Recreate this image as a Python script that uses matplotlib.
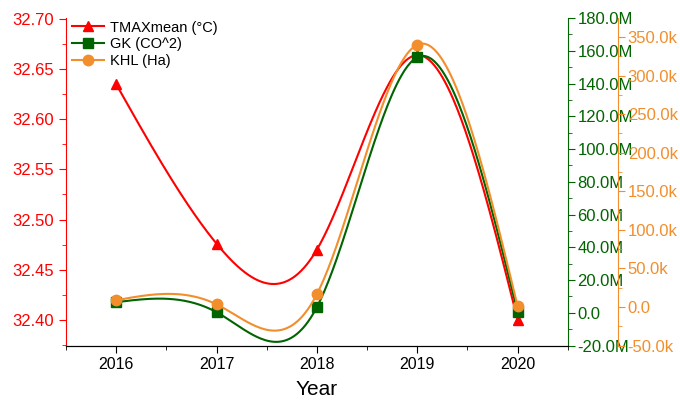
import numpy as np
import matplotlib
matplotlib.use("Agg")
import matplotlib.pyplot as plt
from matplotlib.ticker import MultipleLocator, FuncFormatter

years = [2016, 2017, 2018, 2019, 2020]
tmax_mean = [32.635, 32.476, 32.470, 32.664, 32.400]
gk_co2 = [6.5e6, 0.4e6, 3.5e6, 156e6, 0.4e6]
khl_ha = [8.8e3, 3.5e3, 16.7e3, 340e3, 1.0e3]

RED = "#ff0000"
GREEN = "#006400"
ORANGE = "#f28e2b"


def natural_spline(x, y, n=300):
    x = np.asarray(x, float)
    y = np.asarray(y, float)
    m = len(x)
    h = np.diff(x)
    A = np.zeros((m, m))
    b = np.zeros(m)
    A[0, 0] = A[-1, -1] = 1.0
    for i in range(1, m - 1):
        A[i, i - 1] = h[i - 1]
        A[i, i] = 2 * (h[i - 1] + h[i])
        A[i, i + 1] = h[i]
        b[i] = 3 * ((y[i + 1] - y[i]) / h[i] - (y[i] - y[i - 1]) / h[i - 1])
    c = np.linalg.solve(A, b)
    xs = np.linspace(x[0], x[-1], n)
    idx = np.clip(np.searchsorted(x, xs) - 1, 0, m - 2)
    dx = xs - x[idx]
    bb = (y[idx + 1] - y[idx]) / h[idx] - h[idx] * (2 * c[idx] + c[idx + 1]) / 3
    dd = (c[idx + 1] - c[idx]) / (3 * h[idx])
    ys = y[idx] + bb * dx + c[idx] * dx ** 2 + dd * dx ** 3
    return xs, ys


plt.rcParams["font.family"] = ["Liberation Sans", "DejaVu Sans"]

fig = plt.figure(figsize=(6.8, 4.0), dpi=100)
ax = fig.add_axes([0.097, 0.136, 0.738, 0.819])
ax2 = ax.twinx()
ax3 = ax.twinx()
ax3.spines["right"].set_position(("axes", 1.1))

# Temperature axis
xs, ys = natural_spline(years, tmax_mean)
ax.plot(xs, ys, color=RED, lw=1.5)
ax.plot(years, tmax_mean, "^", color=RED, ms=7.5, ls="none")
ax.set_xlim(2015.5, 2020.5)
ax.set_ylim(32.3743, 32.701)
ax.yaxis.set_major_locator(MultipleLocator(0.05))
ax.yaxis.set_minor_locator(MultipleLocator(0.025))
ax.yaxis.set_major_formatter(FuncFormatter(lambda v, p: f"{v:.2f}"))
ax.xaxis.set_major_locator(MultipleLocator(1))
ax.xaxis.set_minor_locator(MultipleLocator(0.5))
ax.xaxis.set_major_formatter(FuncFormatter(lambda v, p: f"{int(round(v))}"))
ax.tick_params(axis="y", colors=RED, labelsize=12, which="both")
ax.tick_params(axis="y", which="major", length=5)
ax.tick_params(axis="y", which="minor", length=3)
ax.tick_params(axis="x", labelsize=11.5, which="major", length=5, pad=3)
ax.tick_params(axis="x", which="minor", length=3)
ax.spines["left"].set_color(RED)
ax.spines["top"].set_visible(False)
ax.spines["right"].set_visible(False)
ax.set_xlabel("Year", fontsize=15, labelpad=6)

# GK axis
xs, ys = natural_spline(years, gk_co2)
ax2.plot(xs, ys, color=GREEN, lw=1.5)
ax2.plot(years, gk_co2, "s", color=GREEN, ms=6.5, ls="none")
ax2.set_ylim(-20e6, 180e6)
ax2.yaxis.set_major_locator(MultipleLocator(20e6))
ax2.yaxis.set_minor_locator(MultipleLocator(10e6))
ax2.yaxis.set_major_formatter(FuncFormatter(lambda v, p: "0.0" if abs(v) < 1 else f"{v/1e6:.1f}M"))
ax2.tick_params(axis="y", colors=GREEN, labelsize=12, which="both", pad=2)
ax2.tick_params(axis="y", which="major", length=5)
ax2.tick_params(axis="y", which="minor", length=3)
ax2.spines["right"].set_color(GREEN)
ax2.spines["left"].set_visible(False)
ax2.spines["top"].set_visible(False)

# KHL axis
xs, ys = natural_spline(years, khl_ha)
ax3.plot(xs, ys, color=ORANGE, lw=1.5)
ax3.plot(years, khl_ha, "o", color=ORANGE, ms=7.5, ls="none")
ax3.set_ylim(-50e3, 374.7e3)
ax3.yaxis.set_major_locator(MultipleLocator(50e3))
ax3.yaxis.set_minor_locator(MultipleLocator(25e3))
ax3.yaxis.set_major_formatter(FuncFormatter(lambda v, p: "0.0" if abs(v) < 1 else f"{v/1e3:.1f}k"))
ax3.tick_params(axis="y", colors=ORANGE, labelsize=12, which="both", pad=2)
ax3.tick_params(axis="y", which="major", length=5)
ax3.tick_params(axis="y", which="minor", length=3)
ax3.spines["right"].set_color(ORANGE)
ax3.spines["left"].set_visible(False)
ax3.spines["top"].set_visible(False)
ax3.spines["bottom"].set_visible(False)

handles = [
    plt.Line2D([], [], color=RED, marker="^", ms=7.5, lw=1.5),
    plt.Line2D([], [], color=GREEN, marker="s", ms=6.5, lw=1.5),
    plt.Line2D([], [], color=ORANGE, marker="o", ms=7.5, lw=1.5),
]
labels = ["TMAXmean (°C)", "GK (CO^2)", "KHL (Ha)"]
ax.legend(handles, labels, loc="upper left", frameon=False, fontsize=10.5,
          handlelength=2.2, borderaxespad=0.0, labelspacing=0.2,
          handletextpad=0.4, bbox_to_anchor=(0.0, 1.01))

fig.savefig("out.png", dpi=100)
